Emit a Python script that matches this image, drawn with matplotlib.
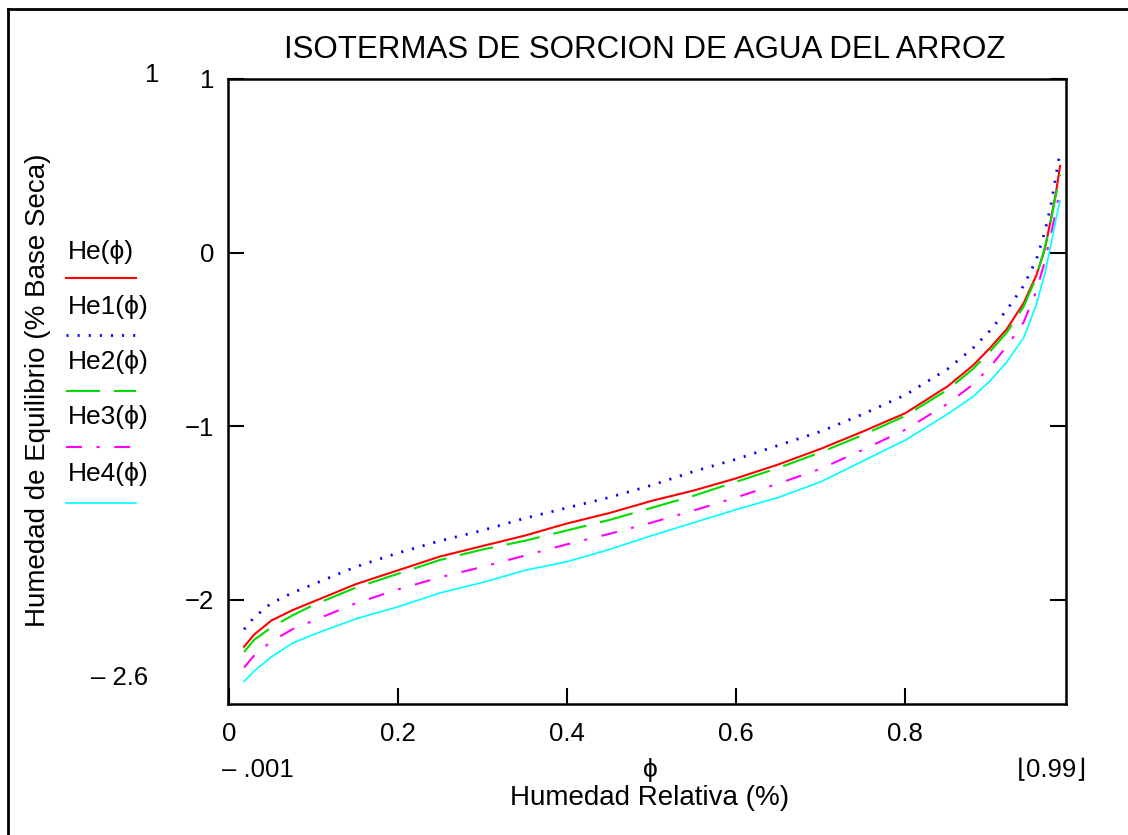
import matplotlib
matplotlib.use('Agg')
import matplotlib.pyplot as plt
from matplotlib.lines import Line2D

plt.rcParams['font.family'] = ['Liberation Sans', 'DejaVu Sans']
plt.rcParams['lines.scale_dashes'] = False

# humedad relativa (fraccion)
phi = [0.018, 0.03, 0.05, 0.075, 0.1, 0.15, 0.2, 0.25, 0.3, 0.35, 0.4, 0.45, 0.5, 0.55,
       0.6, 0.65, 0.7, 0.75, 0.8, 0.85, 0.88, 0.9, 0.92, 0.94, 0.955, 0.965, 0.972, 0.978, 0.983]

he = [-2.27, -2.20, -2.12, -2.06, -2.01, -1.91, -1.83, -1.75, -1.69, -1.63, -1.56, -1.50, -1.43, -1.37,
      -1.30, -1.22, -1.13, -1.03, -0.925, -0.77, -0.65, -0.55, -0.44, -0.29, -0.13, 0.02, 0.19, 0.34, 0.50]
he1 = [-2.17, -2.10, -2.02, -1.96, -1.91, -1.81, -1.73, -1.66, -1.60, -1.53, -1.47, -1.41, -1.34, -1.26,
       -1.19, -1.11, -1.03, -0.93, -0.82, -0.67, -0.55, -0.45, -0.33, -0.19, -0.04, 0.12, 0.27, 0.44, 0.58]
he2 = [-2.30, -2.23, -2.16, -2.09, -2.03, -1.93, -1.85, -1.77, -1.71, -1.66, -1.60, -1.54, -1.47, -1.40,
       -1.32, -1.24, -1.15, -1.05, -0.94, -0.79, -0.67, -0.57, -0.46, -0.31, -0.14, 0.03, 0.18, 0.33, 0.45]
he3 = [-2.39, -2.32, -2.24, -2.17, -2.12, -2.02, -1.94, -1.87, -1.81, -1.745, -1.68, -1.62, -1.555, -1.485,
       -1.41, -1.33, -1.245, -1.135, -1.02, -0.87, -0.76, -0.66, -0.54, -0.40, -0.22, -0.05, 0.10, 0.24, 0.37]
he4 = [-2.47, -2.41, -2.33, -2.25, -2.20, -2.11, -2.04, -1.96, -1.90, -1.83, -1.78, -1.71, -1.63, -1.555,
       -1.48, -1.41, -1.32, -1.20, -1.08, -0.93, -0.83, -0.74, -0.63, -0.49, -0.30, -0.12, 0.04, 0.19, 0.30]

labels = ['He(ϕ)', 'He1(ϕ)', 'He2(ϕ)', 'He3(ϕ)', 'He4(ϕ)']
x_ticks = [0, 0.2, 0.4, 0.6, 0.8]
y_ticks = [1, 0, -1, -2]

W, H = 1128, 835
fig = plt.figure(figsize=(W / 100, H / 100), dpi=100)
ax = fig.add_axes([228 / W, 1 - 704 / H, (1066 - 228) / W, (704 - 79) / H])

styles = [
    dict(color='#ff0000', lw=1.5, ls='-'),
    dict(color='#0000ff', lw=2.0, ls=(0, (1.5, 6.5))),
    dict(color='#00dd00', lw=1.5, ls=(0, (24.5, 10))),
    dict(color='#ff00ff', lw=1.5, ls=(0, (11.5, 10.5, 2.2, 10.5))),
    dict(color='#00ffff', lw=1.2, ls='-'),
]
for ys, st in zip([he, he1, he2, he3, he4], styles):
    ax.plot(phi, ys, **st)

ax.set_xlim(-0.001, 0.99)
ax.set_ylim(-2.6, 1)
ax.set_xticks(x_ticks)
ax.set_xticklabels(['0', '0.2', '0.4', '0.6', '0.8'])
ax.set_yticks(y_ticks)
ax.set_yticklabels(['1', '0', '\u22121', '\u22122'])
ax.tick_params(direction='in', length=11.5, width=1.5, labelsize=18.5, pad=13,
               right=True, top=False)
ax.tick_params(axis='y', pad=10)
for sp in ax.spines.values():
    sp.set_linewidth(1.8)

fig.text(645 / W, 1 - 50 / H, 'ISOTERMAS DE SORCION DE AGUA DEL ARROZ',
         fontsize=22.5, ha='center', va='center')
fig.text(38 / W, 1 - 390 / H, 'Humedad de Equilibrio (% Base Seca)',
         fontsize=20, rotation=90, ha='center', va='center')
fig.text(650 / W, 1 - 798 / H, 'Humedad Relativa (%)', fontsize=20, ha='center', va='center')
fig.text(650 / W, 1 - 770 / H, 'ϕ', fontsize=19, ha='center', va='center')
fig.text(258 / W, 1 - 770 / H, '\u2013 .001', fontsize=18.5, ha='center', va='center')
fig.text(1052 / W, 1 - 770 / H, '\u230a0.99\u230b', fontsize=18.5, ha='center', va='center')
fig.text(152 / W, 1 - 75 / H, '1', fontsize=18.5, ha='center', va='center')
fig.text(120 / W, 1 - 678 / H, '\u2013 2.6', fontsize=18.5, ha='center', va='center')

# leyenda manual, estilo Mathcad
text_y = [252, 307, 362, 417, 474]
line_y = [278, 335, 391, 447, 503]
for lab, ty, ly, st in zip(labels, text_y, line_y, styles):
    fig.text(68 / W, 1 - ty / H, lab, fontsize=19, ha='left', va='center')
    fig.add_artist(Line2D([66 / W, 136 / W], [1 - ly / H, 1 - ly / H], transform=fig.transFigure,
                          color=st['color'], lw=st['lw'], ls=st['ls']))

# marco exterior
fig.add_artist(Line2D([8 / W, 8 / W], [0, 1 - 9 / H], transform=fig.transFigure, color='black', lw=2))
fig.add_artist(Line2D([8 / W, 1], [1 - 9 / H, 1 - 9 / H], transform=fig.transFigure, color='black', lw=2))

fig.savefig('out.png', dpi=100)
